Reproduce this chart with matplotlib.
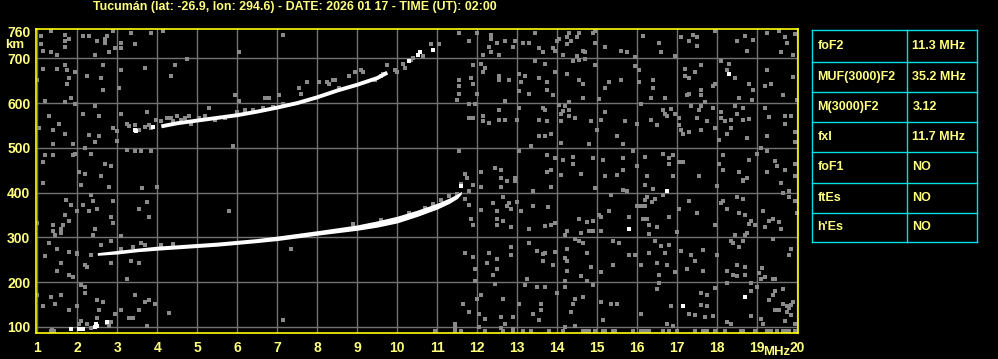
import matplotlib
matplotlib.use('Agg')
import matplotlib.pyplot as plt
from matplotlib.lines import Line2D
import numpy as np

# ---------------- data ----------------
title = "Tucumán (lat: -26.9, lon: 294.6) - DATE: 2026 01 17 - TIME (UT): 02:00"
x_ticks = list(range(1, 21))
y_ticks = [100, 200, 300, 400, 500, 600, 700, 760]

# F2 trace (ordinary), centre height and thickness (km)
f2_mhz = [2.5, 3.0, 3.5, 4.0, 4.5, 5.0, 5.5, 6.0, 6.5, 7.0, 7.5, 8.0, 8.5, 9.0, 9.5, 10.0, 10.5, 11.0, 11.3, 11.5, 11.6]
f2_km = [263, 267, 272, 276, 279, 282, 285, 289, 293, 298, 304, 310, 316, 322, 330, 340, 354, 370, 382, 392, 400]
f2_thk = [6, 8, 8, 9, 9, 9, 9, 9, 9, 10, 10, 10, 11, 12, 14, 15, 14, 13, 12, 10, 6]

# second-hop trace
hop2_mhz = [4.1, 4.5, 5.0, 5.5, 6.0, 6.5, 7.0, 7.5, 8.0, 8.5, 9.0, 9.5, 9.75]
hop2_km = [548, 555, 561, 567, 573, 581, 590, 600, 613, 628, 641, 656, 668]

# white echo speckles
white_mhz = [3.44, 3.47, 3.9, 10.29, 10.52, 10.57, 10.88, 11.59, 18.29, 16.74, 15.79, 17.14, 18.69,
             1.84, 2.05, 2.14, 2.46, 2.49, 2.73, 2.44]
white_km = [541, 537, 546, 693, 708, 713, 719, 415, 666, 404, 319, 147, 167,
            95, 95, 95, 107, 103, 112, 100]

# grey speckles around the traces
fringe = [(3.97, 563), (4.09, 559), (4.24, 567), (4.34, 567), (4.39, 559), (4.49, 572), (4.59, 563),
          (4.69, 567), (4.79, 572), (4.84, 554), (5.04, 567), (5.19, 572), (5.44, 563), (5.69, 567),
          (5.99, 581), (6.19, 585), (6.39, 585), (6.64, 590), (6.89, 592), (7.14, 599),
          (8.04, 648), (8.24, 648), (8.29, 643), (8.39, 652), (8.44, 652), (8.54, 634), (8.79, 661),
          (8.94, 670), (9.14, 670), (9.44, 652), (9.59, 661), (9.64, 666), (9.94, 675), (9.99, 670),
          (10.14, 688), (10.19, 679), (10.34, 697), (10.39, 701), (10.64, 706), (10.84, 731),
          (3.3, 548), (3.55, 541), (3.7, 546), (3.8, 552),
          (3.1, 275), (3.4, 279), (3.7, 282), (4.1, 284), (4.4, 286), (8.9, 330), (9.6, 340),
          (10.3, 355), (10.7, 366), (10.9, 375), (11.1, 383), (11.3, 392), (11.5, 398)]

# grey noise, upper left
noise_a = [(1.09, 749), (1.09, 731), (1.13, 717), (1.34, 715), (1.49, 708), (1.69, 752), (1.69, 739),
           (1.79, 744), (1.69, 726), (2.14, 749), (2.29, 749), (2.49, 739), (2.69, 744), (2.74, 749),
           (2.69, 735), (2.79, 713), (2.44, 708), (3.09, 735), (3.09, 722), (2.94, 722), (2.89, 762),
           (3.34, 757), (3.44, 731), (3.84, 757), (4.14, 762), (1.34, 762), (1.0, 652), (1.14, 677),
           (1.49, 677), (1.69, 684), (1.74, 675), (1.94, 670), (1.79, 655), (1.74, 643), (2.24, 661),
           (2.59, 655), (2.64, 630), (2.64, 684), (3.04, 634), (3.09, 675), (3.69, 679), (4.34, 661),
           (4.44, 684), (4.74, 699), (6.04, 713), (7.14, 753), (1.19, 605), (1.69, 603), (1.84, 612),
           (1.94, 599), (2.44, 594), (1.29, 572), (1.54, 554), (1.39, 541), (1.04, 545), (1.69, 532),
           (1.39, 509), (1.89, 509), (2.14, 576), (2.54, 572), (2.44, 514), (2.29, 529), (2.54, 527),
           (2.89, 545), (2.99, 538), (2.99, 516), (2.19, 500), (3.09, 576), (3.24, 554), (3.44, 550),
           (3.74, 579), (3.84, 545), (3.24, 496), (3.44, 492), (3.59, 492), (3.84, 492), (1.19, 485),
           (1.14, 469), (1.39, 483), (1.89, 483), (1.94, 487), (2.34, 487), (2.69, 465), (2.84, 460),
           (2.04, 447), (2.19, 442), (2.59, 438), (5.29, 590), (5.94, 617), (6.04, 605), (6.69, 612),
           (6.79, 612), (7.04, 619), (5.89, 505)]

# grey noise, upper middle
noise_b = [(11.54, 757), (11.79, 739), (11.99, 757), (12.34, 753), (12.34, 744), (12.49, 735),
           (12.69, 739), (12.94, 739), (13.14, 735), (13.29, 735), (13.44, 757), (12.29, 726),
           (12.34, 713), (12.54, 708), (12.14, 708), (12.89, 726), (13.54, 722), (13.64, 715),
           (13.44, 693), (11.89, 684), (12.09, 688), (12.19, 679), (12.14, 670), (12.54, 661),
           (12.54, 652), (12.79, 652), (13.04, 666), (13.19, 661), (13.09, 648), (13.54, 657),
           (11.54, 652), (11.84, 657), (11.89, 643), (11.54, 639), (11.54, 621), (11.99, 621),
           (11.49, 608), (11.79, 599), (11.94, 599), (12.69, 605), (13.04, 626), (13.29, 621),
           (12.54, 585), (13.04, 590), (13.64, 590), (11.79, 567), (11.89, 567), (12.14, 572),
           (12.14, 559), (12.29, 556), (12.54, 563), (12.69, 563), (12.99, 563), (13.54, 563),
           (13.54, 527), (13.34, 505), (11.54, 492), (13.04, 492), (11.69, 442), (11.74, 433),
           (12.09, 447), (12.44, 456), (12.59, 451), (12.59, 433), (12.94, 433), (7.74, 648),
           (7.54, 634), (7.59, 621), (9.74, 684), (9.09, 675), (11.04, 731)]

# grey noise, upper right
noise_c = [(14.0, 739), (14.04, 744), (13.89, 722), (13.94, 717), (14.14, 708), (14.24, 748), (14.24, 731),
           (14.29, 757), (14.34, 739), (14.49, 748), (14.54, 757), (14.49, 706), (14.64, 717), (14.69, 713),
           (14.69, 699), (14.89, 757), (14.94, 762), (14.94, 735), (15.19, 726), (15.59, 717), (15.74, 713),
           (15.94, 702), (16.14, 750), (16.54, 735), (16.59, 715), (16.94, 706), (17.09, 748), (17.29, 739),
           (17.39, 753), (17.49, 748), (17.49, 728), (17.94, 762), (18.49, 739), (18.69, 750), (18.89, 742),
           (18.74, 717), (19.24, 757), (19.54, 762), (19.69, 748), (19.74, 735), (19.59, 713), (19.89, 708),
           (19.94, 755), (13.69, 688), (13.94, 670), (13.74, 648), (13.74, 630), (13.89, 617), (14.24, 666),
           (14.39, 693), (14.54, 697), (14.54, 652), (14.64, 643), (14.64, 612), (14.94, 684), (15.04, 610),
           (15.19, 634), (15.29, 648), (15.59, 652), (15.94, 682), (16.04, 675), (16.04, 648), (16.39, 652),
           (16.39, 634), (16.34, 612), (16.69, 612), (17.19, 677), (17.19, 661), (17.29, 655), (17.44, 670),
           (17.59, 684), (17.59, 630), (17.59, 617), (17.29, 621), (17.24, 617), (17.94, 643), (17.89, 639),
           (18.09, 693), (18.29, 688), (18.24, 675), (18.44, 657), (18.54, 612), (18.79, 643), (18.89, 630),
           (18.87, 608), (19.24, 675), (19.34, 643), (19.19, 639), (19.64, 617), (19.89, 659), (13.69, 585),
           (13.74, 559), (13.84, 532), (13.69, 527), (14.04, 596), (14.09, 576), (14.14, 583), (14.19, 594),
           (14.29, 585), (14.29, 572), (14.29, 603), (14.44, 567), (14.09, 559), (14.09, 510), (14.84, 559),
           (14.79, 509), (15.19, 581), (15.09, 563), (14.99, 541), (15.49, 527), (15.69, 559), (15.64, 509),
           (15.99, 554), (16.09, 599), (16.34, 563), (16.49, 550), (16.64, 585), (16.69, 576), (16.74, 572),
           (16.84, 587), (16.94, 576), (17.04, 567), (17.04, 550), (17.09, 541), (17.14, 530), (17.29, 536),
           (17.34, 594), (17.49, 567), (17.54, 585), (17.59, 594), (17.69, 603), (17.74, 559), (17.59, 541),
           (17.89, 590), (17.94, 545), (18.04, 518), (18.09, 581), (18.09, 567), (18.19, 561), (18.34, 563),
           (18.24, 532), (18.34, 545), (18.44, 594), (18.49, 576), (18.64, 590), (18.64, 563), (18.79, 565),
           (18.74, 523), (19.19, 590), (19.29, 569), (19.24, 527), (19.69, 572), (19.84, 572), (19.69, 554),
           (19.94, 536), (19.94, 514), (19.99, 608), (13.74, 483), (13.94, 478), (13.84, 451), (13.74, 447),
           (14.09, 440), (14.14, 474), (14.39, 480), (14.39, 465), (14.59, 442), (14.89, 478), (15.19, 438),
           (15.14, 474), (15.49, 440), (15.64, 478), (15.64, 451), (15.89, 494), (15.99, 460), (16.19, 480),
           (16.24, 438), (16.64, 487), (16.79, 478), (16.79, 465), (16.89, 483), (16.89, 438), (17.04, 469),
           (17.14, 469), (17.54, 438), (18.14, 485), (18.04, 465), (18.14, 451), (18.54, 447), (18.64, 429),
           (18.74, 433), (18.79, 474), (19.24, 492), (19.09, 500), (19.44, 471), (19.49, 460), (19.24, 447),
           (19.69, 451), (19.94, 465), (19.94, 438), (18.99, 487)]

# grey noise, lower left
noise_d = [(1.14, 422), (2.09, 417), (2.79, 413), (3.62, 411), (4.0, 413), (2.34, 395), (1.72, 384),
           (1.84, 372), (2.14, 372), (2.39, 381), (2.89, 381), (2.29, 359), (2.49, 364), (1.99, 359),
           (1.69, 350), (1.79, 337), (1.39, 328), (1.64, 328), (1.59, 319), (1.39, 314), (1.44, 305),
           (1.59, 310), (2.39, 305), (2.44, 319), (2.84, 346), (2.89, 332), (3.09, 303), (3.74, 379),
           (3.79, 346), (3.54, 364), (5.79, 359), (0.99, 332), (1.29, 288), (1.49, 274), (1.79, 267),
           (1.99, 263), (1.19, 259), (2.34, 261), (2.59, 283), (2.84, 292), (1.59, 243), (1.49, 225),
           (1.79, 216), (1.89, 211), (2.19, 238), (2.24, 234), (2.84, 243), (3.34, 247), (3.54, 243),
           (3.24, 207), (3.59, 288), (0.99, 171), (1.34, 167), (1.59, 171), (1.14, 147), (1.44, 151),
           (1.79, 138), (2.09, 194), (2.19, 189), (2.19, 176), (2.49, 161), (2.64, 156), (2.54, 138),
           (2.94, 129), (3.09, 138), (3.44, 171), (3.54, 138), (3.69, 156), (3.79, 161), (3.94, 151),
           (3.29, 120), (3.39, 120), (4.29, 131), (3.74, 102), (2.09, 114), (2.04, 107), (2.24, 107),
           (2.49, 120), (2.34, 98), (2.74, 108), (2.78, 103), (2.84, 112), (1.37, 93), (7.14, 115),
           (1.99, 147), (1.99, 265)]

# grey noise, lower middle
noise_e = [(7.34, 274), (11.89, 417), (12.09, 413), (12.59, 413), (12.74, 425), (12.94, 425),
           (11.79, 404), (11.69, 386), (11.79, 372), (12.09, 362), (12.39, 377), (12.49, 359),
           (12.64, 390), (12.74, 370), (12.79, 377), (12.84, 364), (12.99, 379), (13.09, 359),
           (13.39, 404), (13.39, 370), (11.84, 341), (11.89, 328), (12.49, 341), (12.49, 328),
           (12.64, 337), (12.84, 323), (13.29, 319), (13.29, 288), (13.49, 270), (13.64, 264),
           (11.69, 265), (11.89, 256), (12.29, 266), (12.84, 279), (12.84, 261), (12.49, 252),
           (12.24, 242), (11.94, 229), (12.49, 229), (12.39, 216), (11.94, 203), (12.44, 195),
           (13.24, 208), (13.49, 189), (13.64, 247), (13.19, 194), (12.09, 171), (11.99, 162),
           (12.64, 162), (13.04, 151), (11.64, 151), (11.79, 133), (12.04, 129), (12.19, 117),
           (12.59, 122), (12.89, 122), (13.39, 129), (13.59, 151), (13.59, 138), (13.54, 116),
           (11.44, 107), (11.44, 98), (12.04, 100), (12.59, 98), (12.69, 107), (12.89, 95),
           (11.6, 420)]

# grey noise, lower right
noise_f = [(13.84, 413), (14.94, 410), (15.64, 406), (15.74, 404), (16.19, 417), (16.39, 408), (16.64, 395),
           (17.99, 415), (18.64, 425), (19.59, 422), (19.79, 404), (15.34, 395), (16.19, 383), (16.24, 390),
           (16.36, 379), (16.44, 386), (16.19, 370), (16.09, 370), (15.99, 370), (13.77, 368), (15.29, 359),
           (15.79, 346), (15.09, 346), (15.04, 350), (14.54, 341), (14.74, 334), (14.89, 337), (14.79, 314),
           (14.89, 314), (15.09, 314), (14.24, 314), (14.19, 305), (14.59, 310), (13.94, 332), (13.84, 328),
           (13.69, 326), (16.14, 341), (16.24, 341), (16.29, 328), (16.29, 307), (16.49, 323), (16.79, 346),
           (16.99, 312), (17.04, 364), (17.29, 381), (17.49, 355), (17.94, 328), (18.09, 377), (18.14, 381),
           (18.24, 364), (18.49, 390), (18.64, 386), (18.54, 355), (18.69, 350), (18.79, 330), (18.84, 337),
           (18.94, 328), (18.74, 310), (18.69, 305), (18.44, 305), (19.14, 359), (19.29, 337), (19.39, 341),
           (19.19, 323), (19.64, 399), (19.79, 390), (19.94, 381), (19.99, 355), (19.54, 334), (19.59, 319),
           (14.44, 296), (14.54, 292), (14.64, 288), (14.24, 274), (13.94, 268), (14.19, 254), (14.24, 247),
           (14.74, 265), (14.84, 234), (14.59, 214), (14.74, 203), (14.89, 194), (14.19, 203), (14.19, 189),
           (14.24, 225), (13.89, 238), (13.69, 265), (15.39, 292), (15.54, 288), (15.79, 261), (15.94, 261),
           (15.39, 238), (15.09, 223), (16.09, 238), (16.29, 266), (16.44, 292), (16.59, 281), (16.69, 265),
           (16.79, 283), (16.49, 243), (16.74, 238), (16.54, 216), (16.94, 223), (17.09, 270), (17.34, 261),
           (17.44, 247), (17.64, 272), (17.24, 229), (17.64, 225), (18.34, 292), (18.39, 288), (18.54, 279),
           (18.64, 292), (18.49, 238), (18.24, 225), (18.39, 216), (18.49, 214), (18.69, 216), (18.69, 234),
           (17.99, 261), (19.39, 296), (19.84, 274), (19.79, 261), (19.12, 231), (19.04, 221), (19.19, 212),
           (19.09, 207), (19.39, 207), (19.44, 207), (18.24, 198), (18.84, 198), (13.69, 189), (13.99, 175),
           (14.44, 162), (14.64, 167), (14.39, 151), (14.34, 133), (14.44, 102), (14.19, 100), (14.79, 91),
           (15.09, 156), (15.14, 116), (15.34, 151), (15.49, 151), (16.09, 129), (16.49, 185), (16.54, 198),
           (16.84, 147), (16.74, 107), (16.89, 102), (17.29, 129), (17.44, 127), (17.59, 176), (17.59, 149),
           (17.69, 122), (17.74, 171), (17.74, 147), (17.89, 124), (17.94, 186), (18.24, 111), (18.34, 107),
           (18.84, 124), (18.84, 180), (18.99, 189), (19.09, 117), (19.14, 107), (19.29, 161), (19.39, 171),
           (19.44, 181), (19.44, 138), (19.54, 138), (19.64, 151), (19.64, 185), (19.69, 113), (19.74, 147),
           (19.74, 133), (19.79, 142), (19.84, 127), (19.84, 149), (19.89, 156), (19.94, 107)]

# grey marks along the bottom edge
bottom_mhz = [1.35, 1.42, 10.94, 11.44, 11.59, 12.19, 12.64, 12.89, 13.14, 13.34, 13.79, 14.14, 14.64,
              14.69, 14.74, 14.94, 15.14, 15.19, 15.39, 15.44, 15.89, 16.09, 16.19, 16.29, 16.64, 16.79,
              16.99, 17.44, 17.64, 17.69, 17.74, 17.94, 18.19, 18.59, 18.64, 18.94, 19.24, 19.29, 19.34,
              19.49, 19.64, 19.74, 19.79, 19.94]
bottom_km = 91

table_names = ["foF2", "MUF(3000)F2", "M(3000)F2", "fxI", "foF1", "ftEs", "h'Es"]
table_values = ["11.3 MHz", "35.2 MHz", "3.12", "11.7 MHz", "NO", "NO", "NO"]

# ---------------- style ----------------
W, H = 998, 359
TXT = '#FFFF80'
GRID = '#737373'
NOISE = '#8a8a8a'
CYAN = '#00E0E8'
FONT = ['Liberation Sans', 'DejaVu Sans']

fig = plt.figure(figsize=(W / 100, H / 100), dpi=100, facecolor='black')
ax = fig.add_axes([36 / W, 1 - 332.7 / H, (798.3 - 36) / W, (332.7 - 29.3) / H])
ax.set_facecolor('black')
ax.set_xlim(0.967, 20.025)
ax.set_ylim(87.2, 764.8)

for x in x_ticks:
    ax.axvline(x, color=GRID, lw=1.0, zorder=1)
for y in y_ticks[:-1]:
    ax.axhline(y, color=GRID, lw=1.0, zorder=1)

for s in ax.spines.values():
    s.set_color('#FFFF00')
    s.set_linewidth(1.2)
    s.set_zorder(5)

ax.set_xticks(x_ticks)
ax.set_xticklabels([str(v) for v in x_ticks])
ax.set_yticks(y_ticks)
ax.set_yticklabels([str(v) for v in y_ticks])
ax.tick_params(length=0, colors=TXT, labelsize=10)
ax.tick_params(axis='x', pad=6)
ax.tick_params(axis='y', pad=4)
for lab in ax.get_xticklabels() + ax.get_yticklabels():
    lab.set_fontfamily(FONT)
    lab.set_fontweight('bold')
    lab.set_color(TXT)

# noise
for grp in (noise_a, noise_b, noise_c, noise_d, noise_e, noise_f, fringe):
    xs = [p[0] for p in grp]
    ys = [p[1] for p in grp]
    ax.scatter(xs, ys, marker='s', s=4.8, color=NOISE, linewidths=0, antialiased=False, zorder=2)
ax.scatter(bottom_mhz, [bottom_km] * len(bottom_mhz), marker='s', s=6.5, color=NOISE,
           linewidths=0, antialiased=False, zorder=2)

# traces
f2_mhz_a = np.array(f2_mhz)
f2_km_a = np.array(f2_km)
f2_thk_a = np.array(f2_thk)
ax.fill_between(f2_mhz_a, f2_km_a - f2_thk_a / 2, f2_km_a + f2_thk_a / 2,
                color='white', lw=0, zorder=4)
ax.plot(hop2_mhz, hop2_km, color='white', lw=2.8, solid_capstyle='butt', zorder=4)
ax.scatter(white_mhz, white_km, marker='s', s=5.5, color='white', linewidths=0,
           antialiased=False, zorder=4)

# text
fig.text(295 / W, 1 - 7 / H, title, color=TXT, fontsize=8.9, fontweight='bold',
         family=FONT, ha='center', va='center')
fig.text(5 / W, 1 - 45.5 / H, 'km', color=TXT, fontsize=9.5, fontweight='bold',
         family=FONT, ha='left', va='center')
fig.text(777 / W, 1 - 352 / H, 'MHz', color=TXT, fontsize=9.5, fontweight='bold',
         family=FONT, ha='center', va='center')

# parameter table
rows = [30.3, 61.7, 91.7, 121.7, 151.7, 182.7, 212.7, 242.3]
xl, xm, xr = 812.3, 907.3, 977.3
for y in rows:
    fig.add_artist(Line2D([xl / W, xr / W], [1 - y / H, 1 - y / H], color=CYAN, lw=1.0))
for x in (xl, xm, xr):
    fig.add_artist(Line2D([x / W, x / W], [1 - rows[0] / H, 1 - rows[-1] / H], color=CYAN, lw=1.0))
for i, (n, v) in enumerate(zip(table_names, table_values)):
    yc = 1 - (rows[i] + rows[i + 1]) / 2 / H
    fig.text(817.5 / W, yc, n, color=TXT, fontsize=9, fontweight='bold', family=FONT,
             ha='left', va='center')
    fig.text(912.5 / W, yc, v, color=TXT, fontsize=9, fontweight='bold', family=FONT,
             ha='left', va='center')

fig.savefig('out.png', dpi=100, facecolor='black')
